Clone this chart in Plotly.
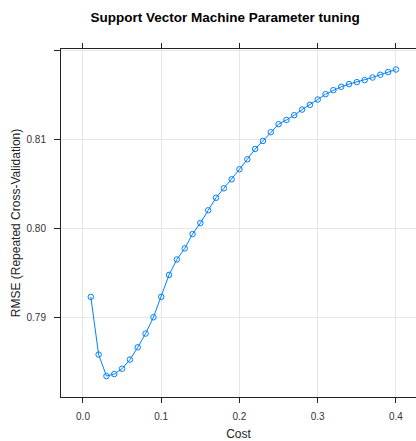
import plotly.graph_objects as go

# SVM tuning results: cost parameter vs. cross-validated RMSE
cost = [round(0.01 * k, 2) for k in range(1, 41)]
rmse = [
    0.79232, 0.78584, 0.78343, 0.78366, 0.78426, 0.78528, 0.78666, 0.78820,
    0.79003, 0.79232, 0.79479, 0.79652, 0.79776, 0.79937, 0.80061, 0.80204,
    0.80345, 0.80451, 0.80552, 0.80665, 0.80777, 0.80893, 0.80983, 0.81081,
    0.81171, 0.81219, 0.81272, 0.81335, 0.81388, 0.81448, 0.81508, 0.81553,
    0.81591, 0.81621, 0.81643, 0.81666, 0.81695, 0.81726, 0.81756, 0.81785,
]
x_ticks = [0.0, 0.1, 0.2, 0.3, 0.4]
x_tick_text = ["0.0", "0.1", "0.2", "0.3", "0.4"]
y_ticks = [0.79, 0.80, 0.81, 0.82]
y_tick_text = ["0.79", "0.80", "0.81", ""]

blue = "#0080ff"
frame = "#222222"
grid = "#e6e6e6"
font_family = "Liberation Sans, Arial, sans-serif"

fig = go.Figure(
    go.Scatter(
        x=cost,
        y=rmse,
        mode="lines+markers",
        line=dict(color=blue, width=1),
        marker=dict(symbol="circle-open", size=5.5, color=blue, line=dict(width=1, color=blue)),
        showlegend=False,
    )
)

fig.update_layout(
    width=416,
    height=441,
    margin=dict(l=61, r=0, t=49, b=44),
    paper_bgcolor="white",
    plot_bgcolor="white",
    font=dict(family=font_family, color="#222222"),
    title=dict(
        text="<b>Support Vector Machine Parameter tuning</b>",
        x=0.541,
        xref="container",
        xanchor="center",
        y=0.96,
        yref="container",
        yanchor="middle",
        font=dict(size=13.5, color="#000000"),
    ),
)

fig.update_xaxes(
    range=[-0.0281, 0.4256],
    tickvals=x_ticks,
    ticktext=x_tick_text,
    ticks="outside",
    ticklen=5,
    tickwidth=1,
    tickcolor=frame,
    showline=True,
    linecolor=frame,
    linewidth=1,
    mirror="ticks",
    showgrid=True,
    gridcolor=grid,
    gridwidth=1,
    zeroline=False,
    tickfont=dict(size=10, color="#333333"),
    ticklabelstandoff=5,
    title=dict(text="Cost", font=dict(size=12, color="#222222"), standoff=8),
)

fig.update_yaxes(
    range=[0.78108, 0.82015],
    tickvals=y_ticks,
    ticktext=y_tick_text,
    ticks="outside",
    ticklen=6,
    tickwidth=1,
    tickcolor=frame,
    showline=True,
    linecolor=frame,
    linewidth=1,
    mirror=False,
    showgrid=True,
    gridcolor=grid,
    gridwidth=1,
    zeroline=False,
    tickfont=dict(size=10, color="#333333"),
    ticklabelstandoff=6,
    title=dict(
        text="RMSE (Repeated Cross-Validation)",
        font=dict(size=12, color="#222222"),
        standoff=3,
    ),
)

fig.write_html("out.html")
